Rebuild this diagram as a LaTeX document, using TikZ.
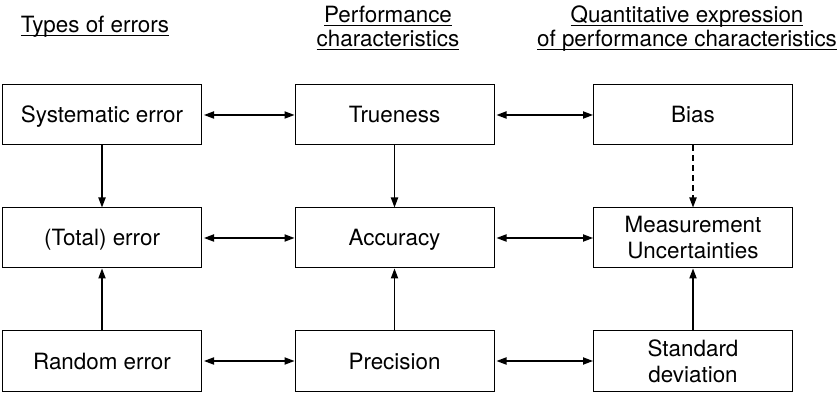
\documentclass[tikz,border=0pt]{standalone}
\usepackage{fontspec}
\setmainfont{TeX Gyre Heros}
\usetikzlibrary{arrows.meta}
\newcommand\headline[1]{\underline{\smash{#1}}\vphantom{Ag}}
\begin{document}
\begin{tikzpicture}[x=0.5pt,y=-0.5pt,
    font=\fontsize{11.2}{13}\selectfont,
    box/.style={draw,line width=0.5pt,minimum width=99.5pt,minimum height=30pt,
      align=center,inner sep=0pt},
    onebox/.style={box,text height=8pt,text depth=0pt},
    head/.style={align=center,font=\fontsize{11.2}{12}\selectfont},
    link/.style={line width=0.65pt,-{Triangle[length=5pt,width=3.6pt]}},
    both/.style={line width=0.65pt,
      {Triangle[length=5pt,width=3.6pt]}-{Triangle[length=5pt,width=3.6pt]},
      shorten <=1pt}]
  \useasboundingbox (0,0) rectangle (838,394);
  % column headers
  \node[head] (hErr) at (95,27) {\headline{Types of errors}};
  \node[head] (hPerf) at (388,29) {\headline{Performance}\\\headline{characteristics}};
  \node[head] (hQuant) at (687,29) {\headline{Quantitative expression}\\\headline{of performance characteristics}};
  % boxes
  \node[onebox] (syst) at (102,115) {Systematic error};
  \node[onebox] (true) at (394.5,115) {Trueness};
  \node[onebox] (bias) at (693,115) {Bias};
  \node[onebox] (total) at (102,238) {(Total) error};
  \node[onebox] (accu) at (394.5,238) {Accuracy};
  \node[box] (unc) at (693,238) {Measurement\\Uncertainties};
  \node[onebox] (rand) at (102,361) {Random error};
  \node[onebox] (prec) at (394.5,361) {Precision};
  \node[box] (sdev) at (693,361) {Standard\\deviation};
  % horizontal links
  \draw[both] (syst) -- (true);
  \draw[both] (true) -- (bias);
  \draw[both] (total) -- (accu);
  \draw[both] (accu) -- (unc);
  \draw[both] (rand) -- (prec);
  \draw[both] (prec) -- (sdev);
  % vertical links
  \draw[link] (syst) -- (total);
  \draw[link] (rand) -- (total);
  \draw[link] (true) -- (accu);
  \draw[link] (prec) -- (accu);
  \draw[link,dash pattern=on 3pt off 2pt] (bias) -- (unc);
  \draw[link] (sdev) -- (unc);
\end{tikzpicture}
\end{document}
